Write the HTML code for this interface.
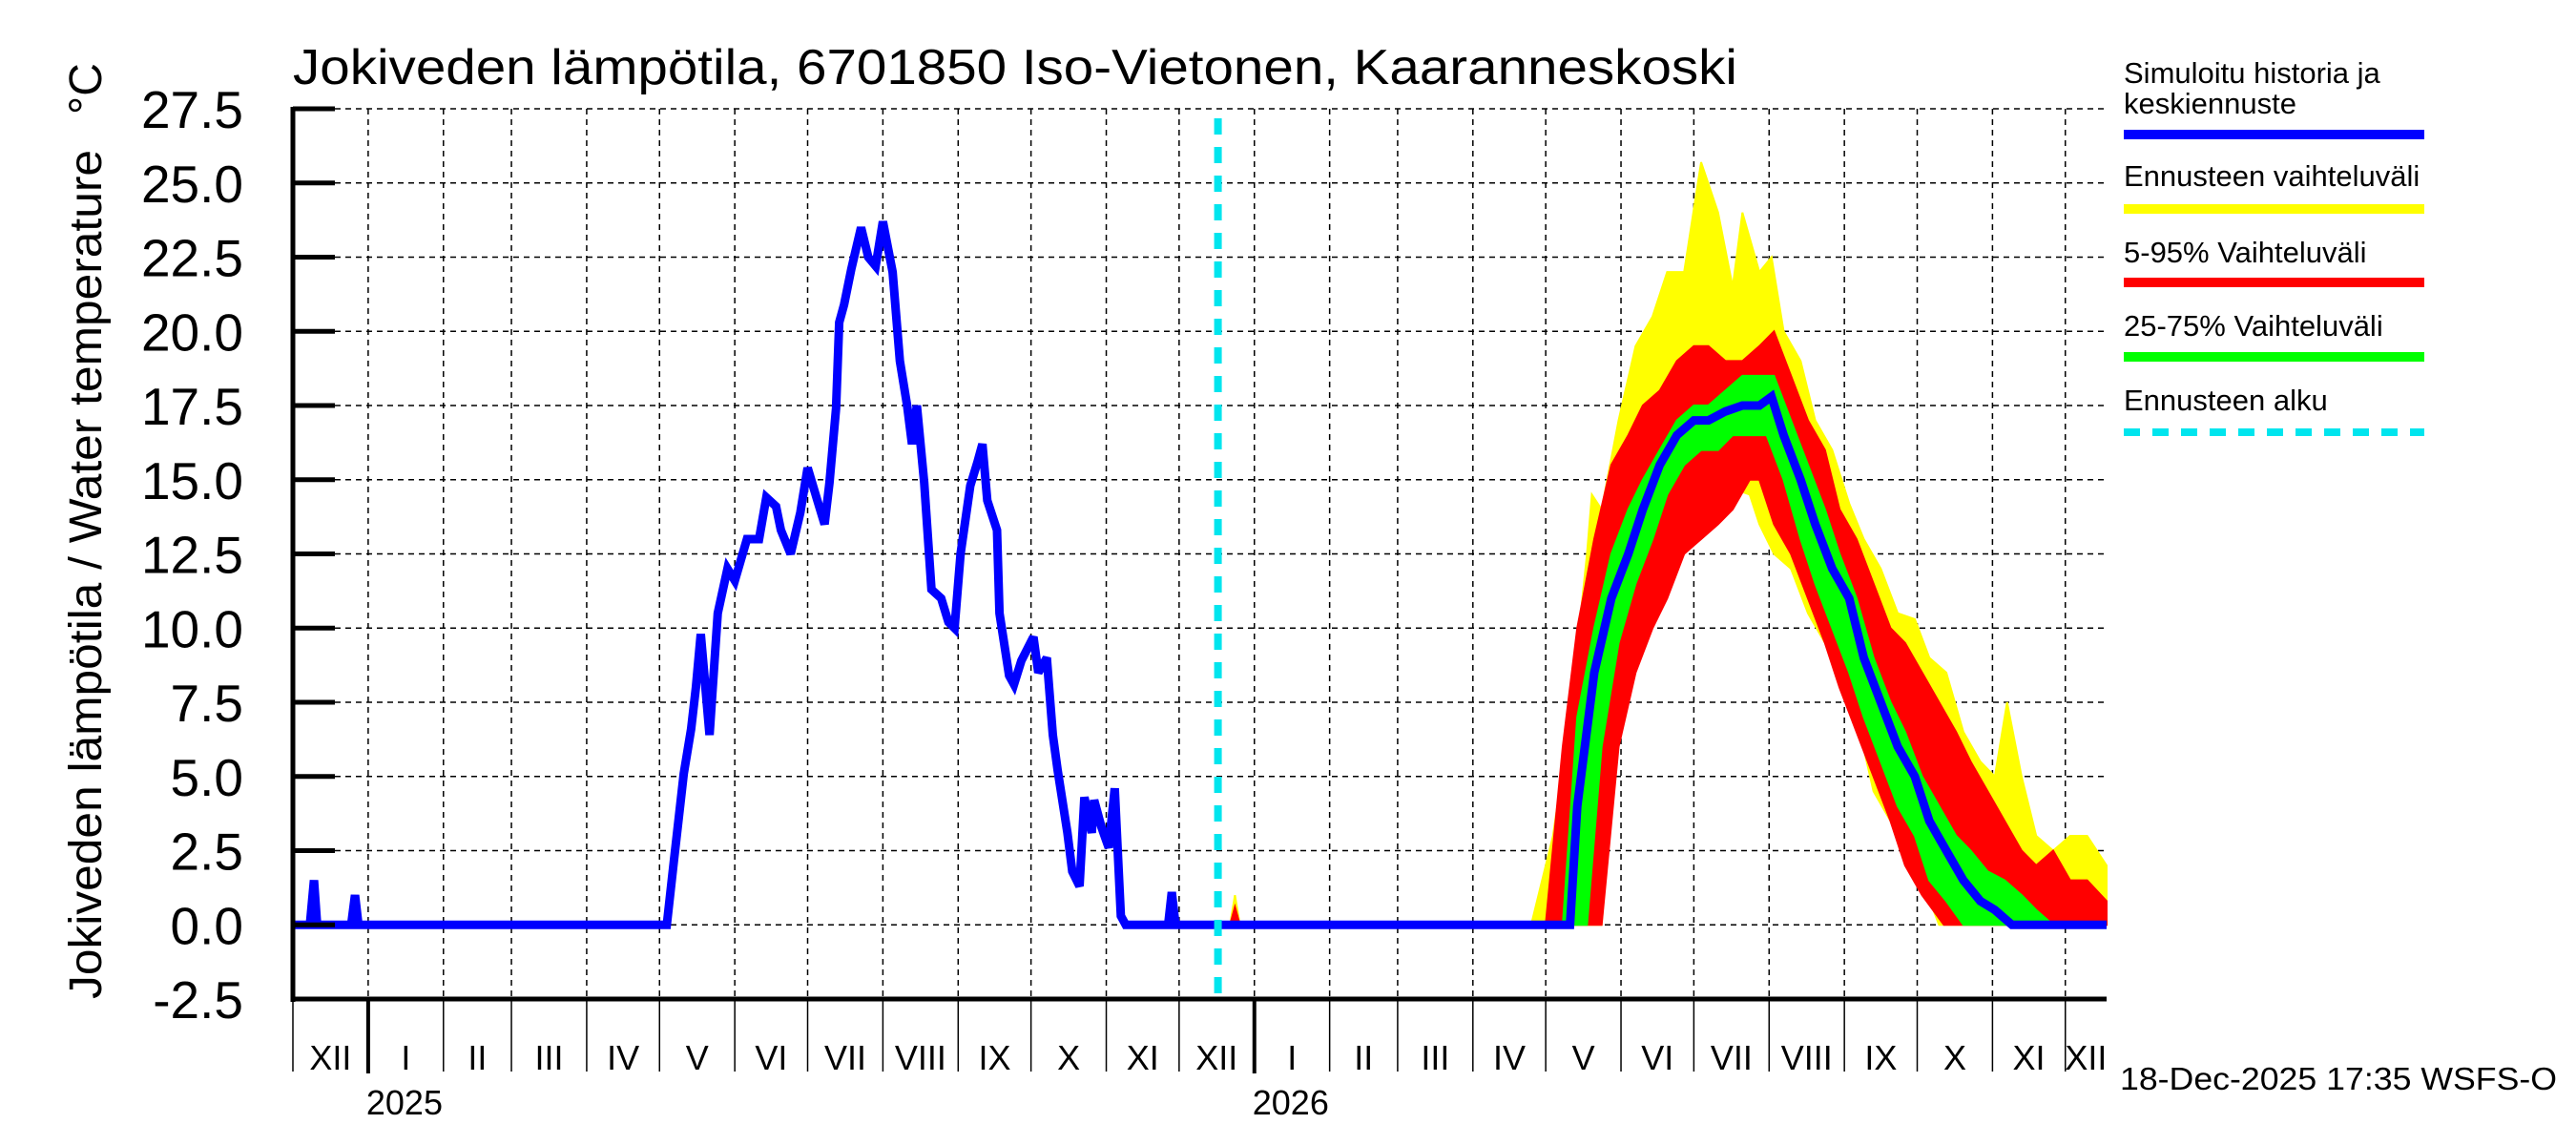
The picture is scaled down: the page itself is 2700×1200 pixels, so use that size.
<!DOCTYPE html>
<html><head><meta charset="utf-8">
<style>
html,body{margin:0;padding:0;background:#fff;}
svg{display:block;font-family:"Liberation Sans",Arial,sans-serif;}
</style></head>
<body>
<svg id="chart" width="2700" height="1200" viewBox="0 0 2700 1200" xmlns="http://www.w3.org/2000/svg">
  <text x="307" y="88" font-size="52" textLength="1514" lengthAdjust="spacingAndGlyphs">Jokiveden lämpötila, 6701850 Iso-Vietonen, Kaaranneskoski</text>
  <text transform="translate(106,1047) rotate(-90)" font-size="48" textLength="890" lengthAdjust="spacingAndGlyphs">Jokiveden lämpötila / Water temperature</text>
  <text transform="translate(106,120) rotate(-90)" font-size="48">°C</text>
  <g id="grid"></g>
  <g id="bands"></g>
  <g id="lines"></g>
  <g id="axes"></g>
  <g id="legend">
    <text x="2226" y="87" font-size="31">Simuloitu historia ja</text>
    <text x="2226" y="119" font-size="31">keskiennuste</text>
    <line x1="2226" x2="2541" y1="141" y2="141" stroke="#0000ff" stroke-width="10"/>
    <text x="2226" y="195" font-size="31">Ennusteen vaihteluväli</text>
    <line x1="2226" x2="2541" y1="219" y2="219" stroke="#ffff00" stroke-width="10"/>
    <text x="2226" y="275" font-size="31">5-95% Vaihteluväli</text>
    <line x1="2226" x2="2541" y1="296" y2="296" stroke="#ff0000" stroke-width="10"/>
    <text x="2226" y="352" font-size="31">25-75% Vaihteluväli</text>
    <line x1="2226" x2="2541" y1="374" y2="374" stroke="#00ff00" stroke-width="10"/>
    <text x="2226" y="430" font-size="31">Ennusteen alku</text>
    <line x1="2226" x2="2541" y1="453" y2="453" stroke="#00e5ee" stroke-width="8" stroke-dasharray="17 13"/>
  </g>
  <text x="2222" y="1142" font-size="33" textLength="458" lengthAdjust="spacingAndGlyphs">18-Dec-2025 17:35 WSFS-O</text>
</svg>
<script>
// ---- data (days since 1 Dec 2024) ----
const yTicks = [-2.5,0,2.5,5,7.5,10,12.5,15,17.5,20,22.5,25,27.5];
const monthLabels = ["XII","I","II","III","IV","V","VI","VII","VIII","IX","X","XI","XII","I","II","III","IV","V","VI","VII","VIII","IX","X","XI","XII"];
const monthStarts = [0,31,62,90,121,151,182,212,243,274,304,335,365,396,427,455,486,516,547,577,608,639,669,700,730];
const yearLabels = ["2025","2026"];
const yearStarts = [31,396];
const forecastStartDay = 381;

const histDays = [0,7,8.7,10,24,25.6,27,153,154,157,161,164,166,168,171.6,175,179,182,187,192,195,199,201,205,209,212,216,219,221,223.7,225,227,230,234,237,240,243,247,250,253,255,257,260,263,267,270,272.5,275,279,282,284,286,290,291,295,297,300,305,307,310.5,313,315,319,321,324,326,329,330,333,336,338.5,341,343,360.5,362,363.5,381];
const histVals = [0,0,1.5,0,0,1.0,0,0,0,2.2,5.1,6.6,8,9.8,6.4,10.5,12,11.6,13,13,14.4,14.1,13.3,12.5,13.9,15.4,14.3,13.5,14.9,17.4,20.3,20.9,22.1,23.5,22.5,22.2,23.7,22,19,17.5,16.2,17.5,14.9,11.3,11,10.2,10,12.5,14.8,15.6,16.2,14.3,13.3,10.5,8.4,8.1,8.9,9.7,8.5,9,6.4,5.2,3.1,1.8,1.3,4.3,3.1,4.2,3.3,2.6,4.6,0.3,0,0,1.1,0,0];

const medDays = [381,526,529,536,543,550,556,563,570,577,583,590,597,604,609,614,621,627,634,641,647,654,661,668,674,681,688,695,701,708,747];
const medVals = [0,0,4,8.5,11,12.5,14,15.5,16.5,17,17,17.3,17.5,17.5,17.8,16.5,15,13.5,12,11,9,7.5,6,5,3.5,2.5,1.5,0.8,0.5,0,0];

const yelUpDays = [381,386,388,390,510,519,526,533,535,539,546,553,560,566,573,580,587,593,597,604,609,614,621,627,634,641,647,654,661,668,674,681,688,695,701,706,712,718,725,732,739,747];
const yelUpVals = [0,0,1.0,0,0,3,7,12.5,14.5,14,17,19.5,20.5,22,22,25.7,24,21.5,24,22,22.5,20,19,17,16,14.2,13,12,10.5,10.3,9,8.5,6.5,5.5,5,7.5,5,3,2.5,3,3,2];
const yelLoDays = [381,539,546,553,560,566,573,580,587,593,600,604,610,617,624,631,637,644,651,658,664,671,678,747];
const yelLoVals = [0,0,7,9,10.5,12.5,13.5,13.5,14,14.7,14.5,13.5,12.5,12,10.5,9.5,8.5,7,4.5,3.5,2.5,1.5,0,0];

const redUpDays = [381,386,388,390,516,523,529,536,543,550,556,563,570,577,583,590,597,604,610,617,624,631,637,644,651,658,664,671,678,685,691,698,705,712,718,725,732,739,747];
const redUpVals = [0,0,0.6,0,0,6,10,13,15.5,16.5,17.5,18,19,19.5,19.5,19,19,19.5,20,18.5,17,16,14,13,11.5,10,9.5,8.5,7.5,6.5,5.5,4.5,3.5,2.5,2,2.5,1.5,1.5,0.8];
const redLoDays = [381,539,546,553,560,566,573,580,587,593,600,604,610,617,624,631,637,644,651,658,664,671,680,747];
const redLoVals = [0,0,6,8.5,10,11,12.5,13,13.5,14,15,15,13.5,12.5,11,9.5,8,6.5,5,3.5,2,1,0,0];

const grnUpDays = [381,523,529,536,543,550,556,563,570,577,583,590,597,604,610,617,624,631,637,644,651,658,664,671,678,685,691,698,705,712,718,725,747];
const grnUpVals = [0,0,7,10,12.5,14,15,16,17,17.5,17.5,18,18.5,18.5,18.5,17,15.5,14,12.5,11,9,7.5,6.5,5,4,3,2.5,1.8,1.5,1,0.5,0,0];
const grnLoDays = [381,533,539,546,553,560,566,573,580,587,593,600,607,614,621,627,634,641,647,654,661,668,674,681,688,747];
const grnLoVals = [0,0,6,9.5,11.5,13,14.5,15.5,16,16,16.5,16.5,16.5,15,13,11.5,10,8.5,7,5.5,4,3,1.5,0.8,0,0];

// ---- scales ----
const X0 = 307, X1 = 2208, DAYS = 747;
const Y0 = 114, Y1 = 1047, VMAX = 27.5, VMIN = -2.5;
function xs(d){ return X0 + d*(X1-X0)/DAYS; }
function ys(v){ return Y0 + (VMAX - v)*(Y1-Y0)/(VMAX-VMIN); }
const NS = "http://www.w3.org/2000/svg";
function mk(tag, parent, attrs){ const e=document.createElementNS(NS,tag); for(const k in attrs) e.setAttribute(k,attrs[k]); parent.appendChild(e); return e; }

const grid = document.getElementById('grid');
const axes = document.getElementById('axes');
const bands = document.getElementById('bands');
const lines = document.getElementById('lines');

// horizontal grid + y tick labels
yTicks.forEach(v=>{
  const y = ys(v);
  if (v > VMIN) {
    const g = mk('line', grid, {x1:X0, x2:X1, y1:y, y2:y, stroke:'#000', 'stroke-width':1.5, 'stroke-dasharray':'6 5'});
    
    
  }
  const t = mk('line', axes, {x1:X0, x2:X0+44, y1:y, y2:y, stroke:'#000', 'stroke-width':5});
  
  
  const lb = mk('text', axes, {x:255, y:y+20, 'font-size':55, 'text-anchor':'end'});
  lb.textContent = v.toFixed(1);
  
  
});
// vertical grid + month ticks/labels
monthStarts.forEach((d,i)=>{
  const x = xs(d);
  if (d > 0) {
    const g = mk('line', grid, {x1:x, x2:x, y1:Y0, y2:Y1, stroke:'#000', 'stroke-width':1.5, 'stroke-dasharray':'6 5'});
    
    
  }
  const t = mk('line', axes, {x1:x, x2:x, y1:Y1, y2:1123, stroke:'#000', 'stroke-width':1.5});
  
  
  const next = i+1 < monthStarts.length ? monthStarts[i+1] : DAYS;
  const lb = mk('text', axes, {x:(x+xs(Math.min(next,DAYS)))/2, y:1121, 'font-size':36, 'text-anchor':'middle'});
  lb.textContent = monthLabels[i];
  
  
});
yearStarts.forEach((d,i)=>{
  const x = xs(d);
  const t = mk('line', axes, {x1:x, x2:x, y1:Y1, y2:1125, stroke:'#000', 'stroke-width':4});
  
  
  const lb = mk('text', axes, {x:x-2, y:1168, 'font-size':36});
  lb.textContent = yearLabels[i];
  
  
});
// axis lines
const ax1 = mk('line', axes, {x1:X0, x2:X0, y1:Y0-2, y2:Y1+3, stroke:'#000', 'stroke-width':5});


const ax2 = mk('line', axes, {x1:X0-2, x2:X1, y1:Y1, y2:Y1, stroke:'#000', 'stroke-width':5});



// bands
function band(upD, upV, loD, loV, color, name){
  const pts = [];
  upD.forEach((d,i)=>pts.push(xs(d).toFixed(1)+','+ys(upV[i]).toFixed(1)));
  for (let i=loD.length-1;i>=0;i--) pts.push(xs(loD[i]).toFixed(1)+','+ys(loV[i]).toFixed(1));
  const p = mk('polygon', bands, {points:pts.join(' '), fill:color, stroke:color, 'stroke-width':2});
  
  
}
band(yelUpDays, yelUpVals, yelLoDays, yelLoVals, '#ffff00', 'band-min-max');
band(redUpDays, redUpVals, redLoDays, redLoVals, '#ff0000', 'band-5-95');
band(grnUpDays, grnUpVals, grnLoDays, grnLoVals, '#00ff00', 'band-25-75');

// lines
function line(days, vals, name){
  const pts = days.map((d,i)=>xs(d).toFixed(1)+','+ys(vals[i]).toFixed(1)).join(' ');
  const p = mk('polyline', lines, {points:pts, fill:'none', stroke:'#0000ff', 'stroke-width':9, 'stroke-linejoin':'miter', 'stroke-miterlimit':3});
  
  
}
line(histDays, histVals, 'history-line');
line(medDays, medVals, 'forecast-median-line');

// forecast start marker
const fx = xs(forecastStartDay);
const fl = mk('line', lines, {x1:fx, x2:fx, y1:Y0+10, y2:Y1, stroke:'#00e5ee', 'stroke-width':8, 'stroke-dasharray':'17 13'});


</script>
</body></html>
